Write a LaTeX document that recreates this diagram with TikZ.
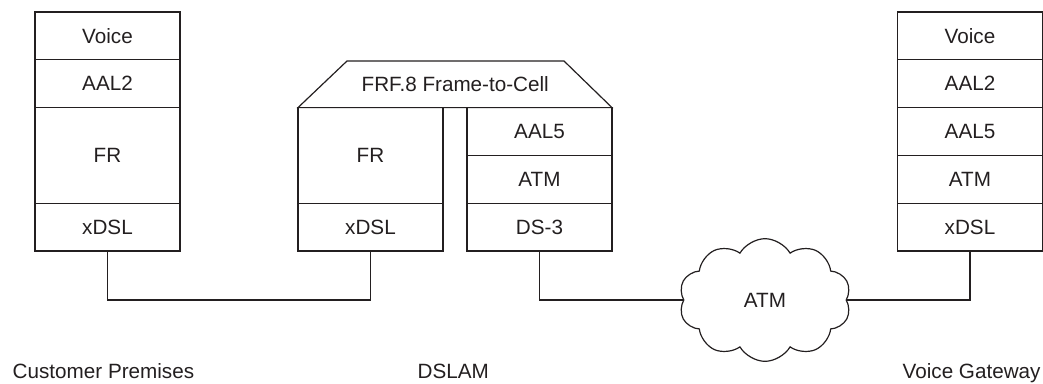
\documentclass[tikz,border=0pt]{standalone}
\usepackage{fontspec}
\setmainfont{Liberation Sans}
\usetikzlibrary{shapes.symbols}
\definecolor{ink}{HTML}{231F20}
\begin{document}
\begin{tikzpicture}[x=0.75pt,y=-0.75pt,
  every node/.style={font=\fontsize{15.5}{18}\selectfont, text=ink},
  layer/.style={draw=ink, line width=0.9pt, minimum width=108.75pt,
                minimum height=35.85pt, inner sep=0pt, outer sep=0pt},
  tall/.style={layer, minimum height=71.7pt},
  wire/.style={draw=ink, line width=0.9pt},
  caption/.style={anchor=base west}]
\useasboundingbox (0,0) rectangle (1043,383);

% Customer premises stack
\node[layer] (cvoice) at (107.5,35.9)  {Voice};
\node[layer] (caal2)  at (107.5,83.7)  {AAL2};
\node[tall]  (cfr)    at (107.5,155.4) {FR};
\node[layer] (cx)     at (107.5,227.1) {xDSL};

% DSLAM: frame relay side
\node[tall]  (dfr) at (370.5,155.4) {FR};
\node[layer] (dx)  at (370.5,227.1) {xDSL};
% DSLAM: ATM side
\node[layer] (daal5) at (539.5,131.5) {AAL5};
\node[layer] (datm)  at (539.5,179.3) {ATM};
\node[layer] (d3)    at (539.5,227.1) {DS-3};
% interworking function on top
\draw[wire] (dfr.north west) -- (347,61) -- (564,61) -- (daal5.north east) -- cycle;
\node (frf) at (455.25,84.5) {FRF.8 Frame-to-Cell};

% Voice gateway stack
\node[layer] (vvoice) at (970,35.9)  {Voice};
\node[layer] (vaal2)  at (970,83.7)  {AAL2};
\node[layer] (vaal5)  at (970,131.5) {AAL5};
\node[layer] (vatm)   at (970,179.3) {ATM};
\node[layer] (vx)     at (970,227.1) {xDSL};

% ATM network
\node[cloud, draw=ink, line width=0.9pt, cloud puffs=10, cloud puff arc=120,
      aspect=1.4, minimum width=129pt, minimum height=92pt, inner sep=0pt]
      (net) at (765,300) {ATM};

% links
\draw[wire] (cx.south) -- ++(0,49) -| (dx.south);
\draw[wire] (d3.south) |- (net.west);
\draw[wire] (net.east) -| (vx.south);

% site captions
\node[caption] (lcust) at (8,378)   {Customer Premises};
\node[caption] (ldsl)  at (413,378) {DSLAM};
\node[caption] (lvg)   at (898,378) {Voice Gateway};
\end{tikzpicture}
\end{document}
